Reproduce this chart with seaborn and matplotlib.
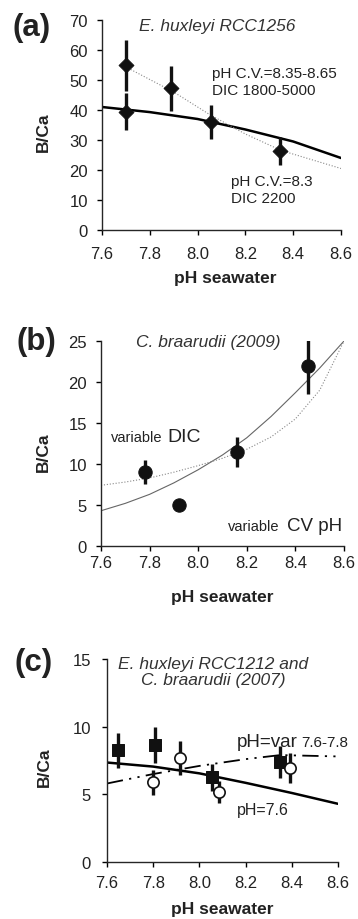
import numpy as np
import pandas as pd
import matplotlib
matplotlib.use("Agg")
import matplotlib.pyplot as plt
import seaborn as sns

# ---------------- data ----------------
# panel (a) E. huxleyi RCC1256
a_ph = [7.70, 7.70, 7.89, 8.055, 8.345]
a_bca = [55.0, 39.5, 47.3, 36.0, 26.3]
a_err = [8.5, 6.3, 7.5, 5.7, 4.7]
a_fit1_x = [7.6, 7.8, 8.0, 8.2, 8.4, 8.6]
a_fit1_y = [41.0, 39.3, 37.0, 33.5, 29.5, 24.0]
a_fit2_x = [7.72, 7.9, 8.05, 8.2, 8.35, 8.6]
a_fit2_y = [53.5, 46.0, 38.5, 32.0, 26.5, 20.5]

# panel (b) C. braarudii (2009)
b_ph = [7.78, 7.92, 8.16, 8.45]
b_bca = [9.0, 5.0, 11.5, 21.9]
b_err = [1.45, 0.6, 1.85, 3.4]
b_fit1_x = [7.6, 7.7, 7.8, 7.9, 8.0, 8.1, 8.2, 8.3, 8.4, 8.5, 8.6]
b_fit1_y = [4.3, 5.2, 6.3, 7.7, 9.3, 11.1, 13.2, 15.8, 18.7, 21.7, 25.0]
b_fit2_x = [7.6, 7.7, 7.8, 7.9, 8.0, 8.1, 8.2, 8.3, 8.4, 8.5, 8.6]
b_fit2_y = [7.4, 7.8, 8.3, 9.0, 9.8, 10.7, 11.8, 13.3, 15.5, 19.0, 25.0]

# panel (c) E. huxleyi RCC1212 (squares) and C. braarudii 2007 (circles)
c_sq_ph = [7.648, 7.807, 8.056, 8.347]
c_sq_bca = [8.24, 8.66, 6.27, 7.38]
c_sq_err = [1.3, 1.35, 1.0, 1.2]
c_ci_ph = [7.80, 7.917, 8.085, 8.393]
c_ci_bca = [5.88, 7.67, 5.16, 6.96]
c_ci_err = [0.95, 1.25, 0.8, 1.1]
c_fit1_x = [7.6, 7.8, 8.0, 8.2, 8.4, 8.6]
c_fit1_y = [7.35, 7.05, 6.55, 5.85, 5.1, 4.3]
c_fit2_x = [7.6, 7.8, 8.0, 8.2, 8.35, 8.6]
c_fit2_y = [5.8, 6.5, 7.1, 7.6, 7.9, 7.8]

xticks = [7.6, 7.8, 8.0, 8.2, 8.4, 8.6]

# ---------------- style ----------------
sns.set_theme(style="ticks")
plt.rcParams['font.family'] = ['Liberation Sans', 'DejaVu Sans']
plt.rcParams['axes.linewidth'] = 1.0
plt.rcParams['xtick.major.size'] = 3.6
plt.rcParams['ytick.major.size'] = 3.6

fig = plt.figure(figsize=(3.58, 9.2), dpi=100)
W, H = 358, 920
TXT = '#222222'


def make_ax(l, r, t, b):
    return fig.add_axes([l / W, 1 - b / H, (r - l) / W, (b - t) / H])


def style(ax, ymax, ystep, xpad, ypad, ylab_xy, xlab_xy):
    ax.set_xlim(7.6, 8.6)
    ax.set_ylim(0, ymax)
    ax.set_xticks(xticks)
    ax.set_xticklabels([f"{v:.1f}" for v in xticks])
    ax.set_yticks(np.arange(0, ymax + 0.1, ystep))
    ax.tick_params(labelsize=12, colors='black', labelcolor=TXT, width=1)
    ax.tick_params(axis='x', pad=xpad)
    ax.tick_params(axis='y', pad=ypad)
    ax.set_xlabel("pH seawater", fontsize=12.5, fontweight='bold', color=TXT)
    ax.set_ylabel("B/Ca", fontsize=12.5, fontweight='bold', color=TXT)
    ax.yaxis.set_label_coords(*ylab_xy)
    ax.xaxis.set_label_coords(*xlab_xy)
    sns.despine(ax=ax)


def panel_letter(label, x_px, y_px):
    fig.text(x_px / W, 1 - y_px / H, label, fontsize=22.5, fontweight='bold',
             ha='left', va='center', color=TXT)


# ---------------- panel (a) ----------------
ax = make_ax(102, 341, 21, 231)
sns.lineplot(x=a_fit1_x, y=a_fit1_y, ax=ax, color='black', lw=1.8)
sns.lineplot(x=a_fit2_x, y=a_fit2_y, ax=ax, color='#888888', lw=0.8, linestyle=':')
ax.errorbar(a_ph, a_bca, yerr=a_err, fmt='none', ecolor='#111111', elinewidth=2.4, capsize=0)
sns.scatterplot(x=a_ph, y=a_bca, ax=ax, marker='D', s=58, color='#111111', edgecolor='#111111', zorder=5)
style(ax, 70, 10, 8, 6.5, (-0.212, 0.47), (0.515, -0.19))
ax.text(8.08, 68, "E. huxleyi RCC1256", fontsize=12.5, style='italic', ha='center', va='center', color='#333333')
ax.text(8.06, 54.5, "pH C.V.=8.35-8.65\nDIC 1800-5000", fontsize=11, ha='left', va='top', color=TXT, linespacing=1.25)
ax.text(8.14, 18.5, "pH C.V.=8.3\nDIC 2200", fontsize=11, ha='left', va='top', color=TXT, linespacing=1.25)
panel_letter("(a)", 12, 28)

# ---------------- panel (b) ----------------
ax = make_ax(101, 344, 342, 547)
sns.lineplot(x=b_fit1_x, y=b_fit1_y, ax=ax, color='#666666', lw=0.8)
sns.lineplot(x=b_fit2_x, y=b_fit2_y, ax=ax, color='#888888', lw=0.8, linestyle=':')
ax.errorbar(b_ph, b_bca, yerr=b_err, fmt='none', ecolor='#111111', elinewidth=2.4, capsize=0)
sns.scatterplot(x=b_ph, y=b_bca, ax=ax, marker='o', s=92, color='#111111', edgecolor='#111111', zorder=5)
style(ax, 25, 5, 3, 6.5, (-0.206, 0.46), (0.5, -0.21))
ax.text(8.04, 24.9, "C. braarudii (2009)", fontsize=12.5, style='italic', ha='center', va='center', color='#333333')
ax.text(7.641, 13.3, "variable", fontsize=10.5, ha='left', va='center', color=TXT)
ax.text(7.872, 13.3, "DIC", fontsize=14, ha='left', va='center', color=TXT)
ax.text(8.123, 2.45, "variable", fontsize=10.5, ha='left', va='center', color=TXT)
ax.text(8.366, 2.45, "CV pH", fontsize=13.5, ha='left', va='center', color=TXT)
panel_letter("(b)", 16, 342)

# ---------------- panel (c) ----------------
ax = make_ax(107, 338, 660, 863)
sns.lineplot(x=c_fit1_x, y=c_fit1_y, ax=ax, color='black', lw=1.8)
sns.lineplot(x=c_fit2_x, y=c_fit2_y, ax=ax, color='black', lw=1.3,
             dashes=False, linestyle=(0, (9, 3.5, 1.2, 3.5, 1.2, 3.5)))
ax.errorbar(c_sq_ph, c_sq_bca, yerr=c_sq_err, fmt='none', ecolor='#111111', elinewidth=2.4, capsize=0)
ax.errorbar(c_ci_ph, c_ci_bca, yerr=c_ci_err, fmt='none', ecolor='#111111', elinewidth=2.4, capsize=0)
sns.scatterplot(x=c_sq_ph, y=c_sq_bca, ax=ax, marker='s', s=78, color='#111111', edgecolor='#111111', zorder=5)
sns.scatterplot(x=c_ci_ph, y=c_ci_bca, ax=ax, marker='o', s=66, color='white', edgecolor='#111111', linewidth=1.2, zorder=5)
style(ax, 15, 5, 6, 8, (-0.238, 0.47), (0.5, -0.19))
ax.text(8.06, 14.07, "E. huxleyi RCC1212 and\nC. braarudii (2007)", fontsize=12.5, style='italic',
        ha='center', va='center', color='#333333', linespacing=1.05)
ax.text(8.163, 8.87, "pH=var", fontsize=13.5, ha='left', va='center', color=TXT)
ax.text(8.44, 8.87, "7.6-7.8", fontsize=11, ha='left', va='center', color=TXT)
ax.text(8.163, 3.9, "pH=7.6", fontsize=11.5, ha='left', va='center', color=TXT)
panel_letter("(c)", 15, 663)

fig.savefig("out.png", dpi=100)
